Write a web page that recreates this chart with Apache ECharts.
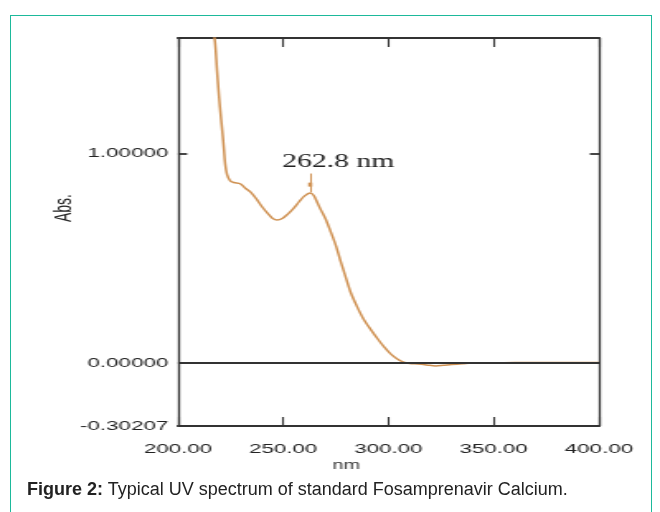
<!DOCTYPE html>
<html lang="en">
<head>
<meta charset="UTF-8">
<title>Fosamprenavir Calcium UV spectrum</title>
<style>
    html, body { margin: 0; padding: 0; background: #fff; width: 660px; height: 512px; overflow: hidden; }
    #frame { position: absolute; left: 10px; top: 15px; width: 642px; height: 530px; border: 1.5px solid #1db99b; box-sizing: border-box; }
    /* the original plot is stretched sideways, so draw narrow and widen it */
    #main { position: absolute; left: 0; top: 0; width: 400px; height: 512px; transform: scaleX(1.65); transform-origin: 0 0; }
    #caption { position: absolute; left: 27px; top: 479px; font-size: 18px; line-height: 20px; font-family: "Liberation Sans", Arial, sans-serif; color: #222; white-space: nowrap; }
</style>
</head>
<body>
<div id="frame"></div>
<div id="main"></div>
<div id="caption"><b>Figure 2:</b> Typical UV spectrum of standard Fosamprenavir Calcium.</div>

<script src="https://cdn.jsdelivr.net/npm/echarts@6/dist/echarts.min.js"></script>
<script>
var wavelengths = [216, 217.6, 218.5, 219.5, 220.3, 221, 221.8, 222.4, 223.3, 224.8,
    226.5, 229.5, 232, 234.6, 237.5, 240, 243, 245, 247.1, 249.5,
    252, 255, 257.5, 260, 262.8, 264.5, 266, 267.6, 270, 272.4,
    275, 277.1, 279.5, 281.9, 285, 288.1, 291.5, 294.8, 298, 301,
    304, 307.1, 310, 314, 318, 322.4, 326, 330, 335, 341.4,
    350, 360, 370, 380, 390, 400];
var absorbance = [1.65, 1.53, 1.40, 1.27, 1.18, 1.11, 1.02, 0.95, 0.90, 0.87,
    0.862, 0.856, 0.835, 0.815, 0.78, 0.745, 0.71, 0.69, 0.683, 0.69,
    0.71, 0.74, 0.77, 0.797, 0.812, 0.80, 0.77, 0.736, 0.69, 0.63,
    0.56, 0.49, 0.415, 0.34, 0.27, 0.21, 0.16, 0.115, 0.075, 0.043,
    0.02, 0.003, -0.003, -0.006, -0.01, -0.015, -0.012, -0.008, -0.004, 0,
    0, 0.001, 0.001, 0.002, 0.002, 0.002];
var yLabelValues = [-0.30207, 0, 1];
var yTickValues = [1];
var peakNm = 262.8;
var peakAbs = 0.812;

(function () {
    var font = '"Liberation Sans", Arial, sans-serif';
    var axisColor = '#333';
    var textColor = '#222';
    var curveColor = '#cf9152';

    var points = wavelengths.map(function (w, i) {
        return [w, absorbance[i]];
    });

    var xBase = {
        type: 'value',
        min: 200,
        max: 400,
        interval: 50,
        splitLine: { show: false },
        axisLine: { show: true, onZero: false, lineStyle: { color: axisColor, width: 2 } },
        axisTick: { show: true, inside: true, length: 9, lineStyle: { color: axisColor, width: 1.1 } }
    };
    var yBase = {
        type: 'value',
        min: -0.30207,
        max: 1.553,
        splitLine: { show: false },
        axisLine: { show: true, onZero: false, lineStyle: { color: axisColor, width: 1.3 } },
        axisTick: { show: true, inside: true, length: 5.5, customValues: yTickValues, lineStyle: { color: axisColor, width: 1.8 } }
    };

    var chart = echarts.init(document.getElementById('main'));
    chart.setOption({
        animation: false,
        grid: { left: 107.9, right: 37, top: 38, bottom: 86, outerBoundsMode: 'none' },
        xAxis: [
            echarts.util.merge({
                position: 'bottom',
                name: 'nm',
                nameLocation: 'middle',
                nameGap: 34,
                nameMoveOverlap: false,
                nameTextStyle: { fontFamily: font, fontSize: 12, color: '#333', padding: [0, 51, 0, 0] },
                axisLabel: {
                    fontFamily: font, fontSize: 13.5, color: textColor, margin: 16,
                    formatter: function (v) { return v.toFixed(2); }
                }
            }, xBase, true),
            echarts.util.merge({ position: 'top', axisLabel: { show: false } }, xBase, true)
        ],
        yAxis: [
            echarts.util.merge({
                position: 'left',
                name: 'Abs.',
                nameLocation: 'middle',
                nameGap: 62,
                nameRotate: 90,
                nameMoveOverlap: false,
                nameTextStyle: { fontFamily: font, fontSize: 14, color: textColor, padding: [0, 0, 0, 48] },
                axisLabel: {
                    fontFamily: font, fontSize: 13.5, color: textColor, margin: 6,
                    verticalAlignMinLabel: 'middle',
                    verticalAlignMaxLabel: 'middle',
                    customValues: yLabelValues,
                    formatter: function (v) { return v.toFixed(5); }
                }
            }, yBase, true),
            echarts.util.merge({ position: 'right', axisLabel: { show: false } }, yBase, true)
        ],
        series: [
            {
                type: 'line',
                data: [],
                z: 1,
                markLine: {
                    silent: true,
                    symbol: 'none',
                    label: { show: false },
                    lineStyle: { color: axisColor, width: 1.8, type: 'solid' },
                    data: [{ yAxis: 0 }]
                }
            },
            {
                type: 'line',
                data: points,
                z: 3,
                smooth: 0.3,
                showSymbol: false,
                lineStyle: { color: curveColor, width: 1.5 },
                markLine: {
                    silent: true,
                    symbol: 'none',
                    label: { show: false },
                    lineStyle: { color: curveColor, width: 1, type: 'solid' },
                    data: [[{ coord: [peakNm, peakAbs + 0.003] }, { coord: [peakNm, peakAbs + 0.093] }]]
                },
                markPoint: {
                    silent: true,
                    data: [
                        {
                            coord: [peakNm, peakAbs + 0.04],
                            symbol: 'rect',
                            symbolSize: [2.5, 4],
                            itemStyle: { color: curveColor },
                            label: { show: false }
                        },
                        {
                            coord: [peakNm, peakAbs + 0.093],
                            symbolSize: 0,
                            label: {
                                show: true,
                                position: 'inside',
                                offset: [17, -11],
                                formatter: peakNm.toFixed(1) + ' nm',
                                fontFamily: '"Liberation Serif", "Times New Roman", serif',
                                fontSize: 18,
                                color: textColor
                            }
                        }
                    ]
                }
            }
        ]
    });
})();
</script>
</body>
</html>
